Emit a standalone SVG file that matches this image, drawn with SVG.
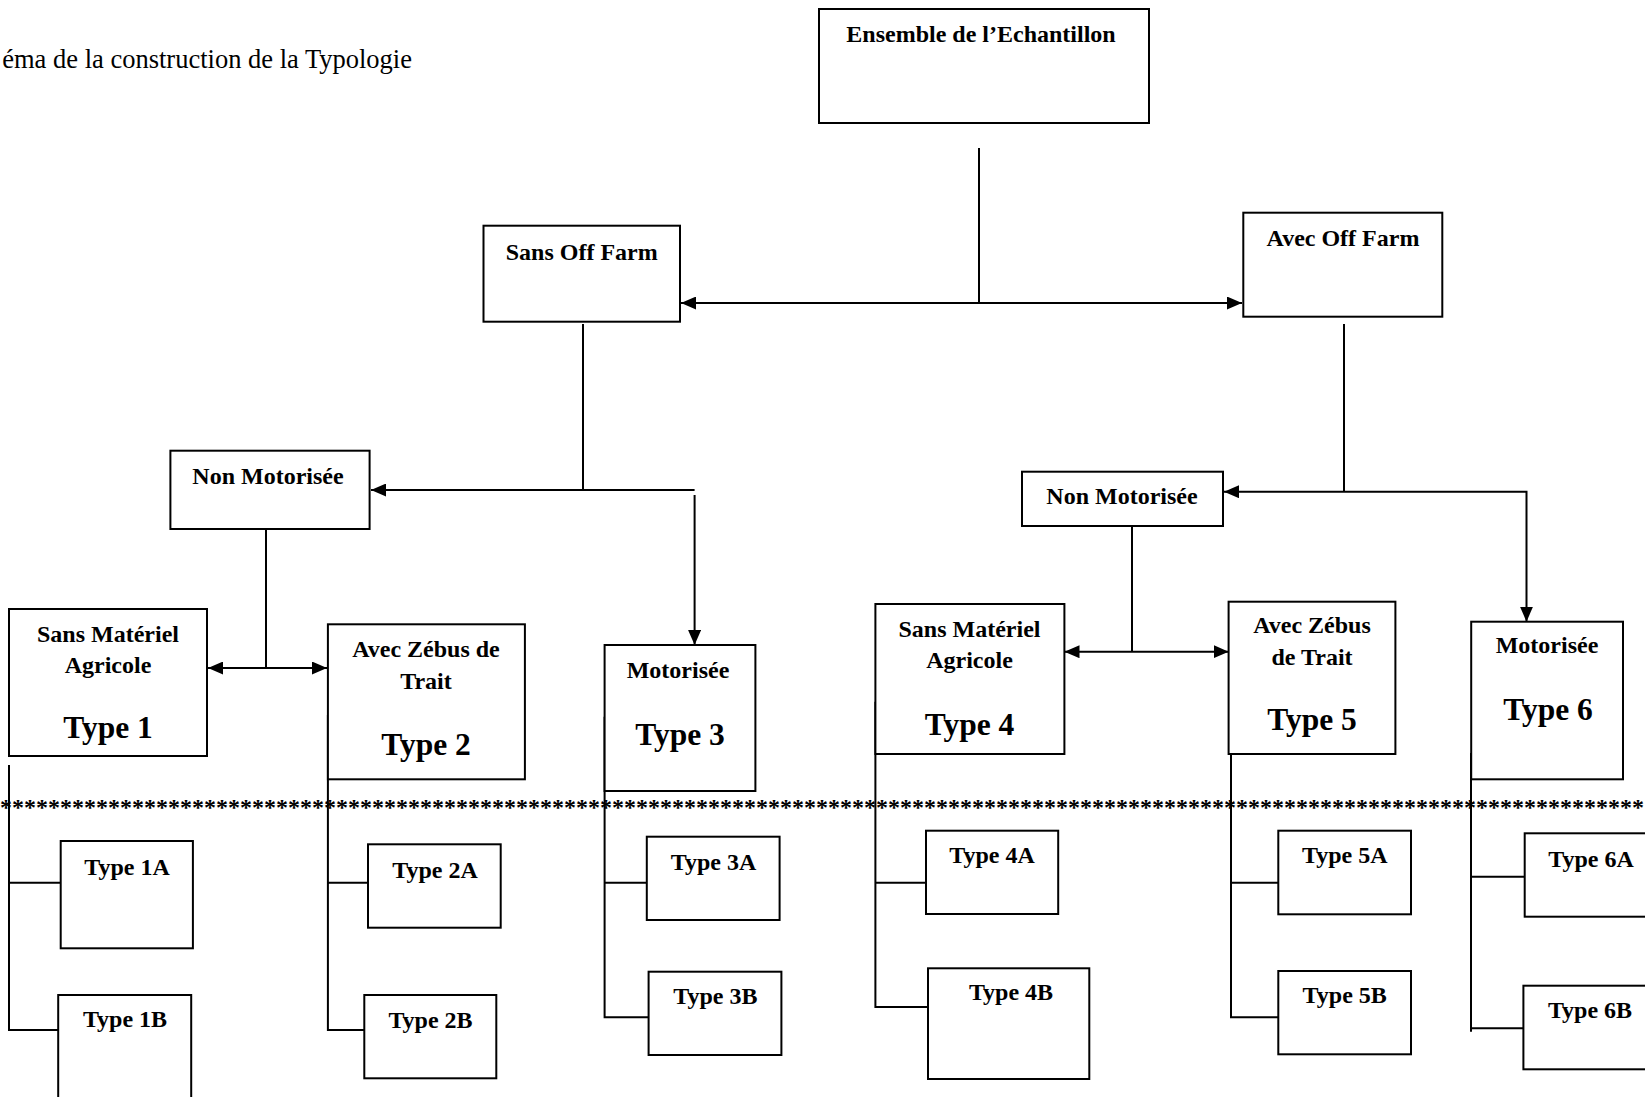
<svg xmlns="http://www.w3.org/2000/svg" width="1645" height="1097" viewBox="0 0 1645 1097">
<style>
.box{fill:#fff;stroke:#000;stroke-width:2}
.lbl{font-family:"Liberation Serif","Times New Roman",serif;font-weight:bold;font-size:24px;text-anchor:middle;fill:#000}
.big{font-family:"Liberation Serif","Times New Roman",serif;font-weight:bold;font-size:31.5px;text-anchor:middle;fill:#000}
.ln{fill:none;stroke:#000;stroke-width:2}
.ar{marker-end:url(#ah)}
.dar{marker-end:url(#ah);marker-start:url(#ah)}
</style>
<defs>
<marker id="ah" markerUnits="userSpaceOnUse" markerWidth="15" markerHeight="13" refX="15" refY="6.5" orient="auto-start-reverse" viewBox="0 0 15 13">
<path d="M0,0 L15,6.5 L0,13 z" fill="#000"/>
</marker>
</defs>
<rect width="1645" height="1097" fill="#fff"/>
<text x="412" y="68" font-family="'Liberation Serif','Times New Roman',serif" font-size="26.5" text-anchor="end" fill="#000">éma de la construction de la Typologie</text>

<g id="connectors">
<path class="ln" d="M979,148 V303"/>
<path class="ln dar" d="M681,303 H1242"/>
<path class="ln" d="M583,324 V490"/>
<path class="ln ar" d="M694.6,490 H371"/>
<path class="ln ar" d="M694.6,495 V645"/>
<path class="ln" d="M266,529 V668"/>
<path class="ln dar" d="M208,668 H327"/>
<path class="ln" d="M9,765 V1030 H58.2 M9,882.7 H60.7"/>
<path class="ln" d="M327.9,715 V1030 H364.3 M327.9,882.7 H368"/>
<path class="ln" d="M604.6,716.7 V1017.3 H648.6 M604.6,882.7 H646.8"/>
<path class="ln" d="M1344,324 V491.7"/>
<path class="ln ar" d="M1344,491.7 H1224"/>
<path class="ln ar" d="M1344,491.7 H1526.5 V621.7"/>
<path class="ln" d="M1132,526 V651.7"/>
<path class="ln dar" d="M1064.5,651.7 H1228.6"/>
<path class="ln" d="M875.4,701.7 V1007 H928 M875.4,882.7 H926"/>
<path class="ln" d="M1231,754 V1017.3 H1278.3 M1231,882.7 H1278.3"/>
<path class="ln" d="M1471,753 V1031.7 M1471,1028.3 H1523.4 M1471,876.7 H1524.7"/>
</g>

<text x="0" y="815" font-family="'Liberation Serif','Times New Roman',serif" font-weight="bold" font-size="24" fill="#000">*****************************************************************************************************************************************</text>

<g id="n-ensemble"><rect class="box" x="819" y="9" width="330" height="114"/><text class="lbl" x="981" y="42">Ensemble de l’Echantillon</text></g>
<g id="n-sans-off-farm"><rect class="box" x="483.5" y="225.7" width="196.5" height="96"/><text class="lbl" x="581.7" y="260">Sans Off Farm</text></g>
<g id="n-avec-off-farm"><rect class="box" x="1243.3" y="212.7" width="199" height="104"/><text class="lbl" x="1343" y="246">Avec Off Farm</text></g>
<g id="n-non-mot-1"><rect class="box" x="170.4" y="450.7" width="199.2" height="78.3"/><text class="lbl" x="268" y="484">Non Motorisée</text></g>
<g id="n-type1"><rect class="box" x="9" y="609" width="198" height="147"/><text class="lbl" x="108" y="642">Sans Matériel</text><text class="lbl" x="108" y="673">Agricole</text><text class="big" x="108" y="738">Type 1</text></g>
<g id="n-type2"><rect class="box" x="327.9" y="624.3" width="197" height="155"/><text class="lbl" x="426" y="657">Avec Zébus de</text><text class="lbl" x="426" y="689">Trait</text><text class="big" x="426" y="755">Type 2</text></g>
<g id="n-type3"><rect class="box" x="604.6" y="645" width="150.8" height="146"/><text class="lbl" x="678" y="678">Motorisée</text><text class="big" x="680" y="745">Type 3</text></g>
<g id="n-non-mot-2"><rect class="box" x="1022" y="471.7" width="201" height="54.3"/><text class="lbl" x="1122" y="504">Non Motorisée</text></g>
<g id="n-type4"><rect class="box" x="875.4" y="604" width="189" height="150"/><text class="lbl" x="969.5" y="637">Sans Matériel</text><text class="lbl" x="969.5" y="668">Agricole</text><text class="big" x="969.5" y="735">Type 4</text></g>
<g id="n-type5"><rect class="box" x="1228.6" y="601.7" width="166.8" height="152.3"/><text class="lbl" x="1312" y="633">Avec Zébus</text><text class="lbl" x="1312" y="665">de Trait</text><text class="big" x="1312" y="730">Type 5</text></g>
<g id="n-type6"><rect class="box" x="1471.2" y="621.7" width="151.8" height="157.6"/><text class="lbl" x="1547" y="653">Motorisée</text><text class="big" x="1548" y="720">Type 6</text></g>
<g id="n-type1a"><rect class="box" x="60.7" y="841" width="132.2" height="107.3"/><text class="lbl" x="127" y="875">Type 1A</text></g>
<g id="n-type1b"><rect class="box" x="58.2" y="995" width="133" height="130"/><text class="lbl" x="125" y="1027">Type 1B</text></g>
<g id="n-type2a"><rect class="box" x="368" y="844.3" width="132.7" height="83.4"/><text class="lbl" x="435" y="878">Type 2A</text></g>
<g id="n-type2b"><rect class="box" x="364.3" y="995" width="132" height="83.3"/><text class="lbl" x="430.5" y="1028">Type 2B</text></g>
<g id="n-type3a"><rect class="box" x="646.8" y="836.7" width="132.8" height="83.3"/><text class="lbl" x="713.5" y="870">Type 3A</text></g>
<g id="n-type3b"><rect class="box" x="648.6" y="971.7" width="132.8" height="83.3"/><text class="lbl" x="715.4" y="1004">Type 3B</text></g>
<g id="n-type4a"><rect class="box" x="926" y="830.7" width="132.2" height="83.3"/><text class="lbl" x="992" y="863">Type 4A</text></g>
<g id="n-type4b"><rect class="box" x="928" y="968.3" width="161.3" height="110.7"/><text class="lbl" x="1011" y="1000">Type 4B</text></g>
<g id="n-type5a"><rect class="box" x="1278.3" y="830.7" width="132.7" height="83.6"/><text class="lbl" x="1344.7" y="863">Type 5A</text></g>
<g id="n-type5b"><rect class="box" x="1278.3" y="971" width="132.7" height="83.3"/><text class="lbl" x="1344.7" y="1003">Type 5B</text></g>
<g id="n-type6a"><rect class="box" x="1524.7" y="833.3" width="150" height="83.4"/><text class="lbl" x="1591" y="867">Type 6A</text></g>
<g id="n-type6b"><rect class="box" x="1523.4" y="985.7" width="150" height="83.6"/><text class="lbl" x="1590" y="1018">Type 6B</text></g>
</svg>
